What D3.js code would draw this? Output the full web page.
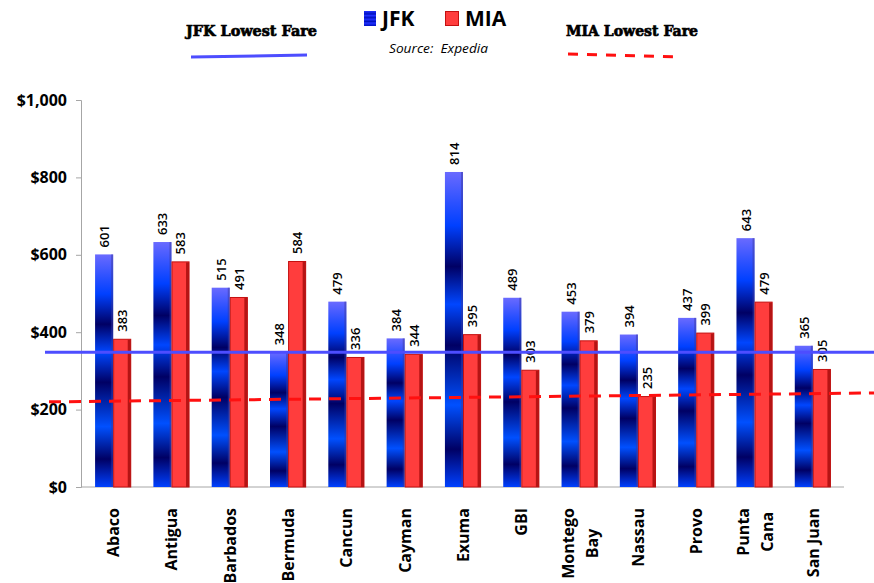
<!DOCTYPE html>
<html>
<head>
<meta charset="utf-8">
<script src="https://cdn.jsdelivr.net/npm/d3@7"></script>
<style>
  body { margin: 0; background: #fff; }
  svg { display: block; }
</style>
</head>
<body>
<script>
// fares by destination
const categories = ["Abaco", "Antigua", "Barbados", "Bermuda", "Cancun", "Cayman", "Exuma", "GBI",
  "Montego\nBay", "Nassau", "Provo", "Punta\nCana", "San Juan"];
const jfkFares = [601, 633, 515, 348, 479, 384, 814, 489, 453, 394, 437, 643, 365];
const miaFares = [383, 583, 491, 584, 336, 344, 395, 303, 379, 235, 399, 479, 305];
const yTicks = [0, 200, 400, 600, 800, 1000];
const jfkLowest = 348;
const miaLowestLine = [220, 243]; // hand drawn dashed line, slightly sloped

const width = 874;
const height = 583;

const svg = d3.select("body").append("svg")
    .attr("width", width)
    .attr("height", height);

const defs = svg.append("defs");
const grad = defs.append("linearGradient")
    .attr("id", "jfkGrad")
    .attr("x1", 0).attr("y1", 0).attr("x2", 0).attr("y2", 1);
[[0, "#6a6aff"], [0.1, "#2a50ff"], [0.17, "#0040ff"], [0.3, "#000064"], [0.42, "#0046ff"],
 [0.55, "#000064"], [0.74, "#0050ff"], [0.88, "#000064"], [1, "#0040ff"]]
    .forEach(s => grad.append("stop").attr("offset", s[0]).attr("stop-color", s[1]));

const stripes = defs.append("linearGradient")
    .attr("id", "legendStripes")
    .attr("x1", 0).attr("y1", 0).attr("x2", 0).attr("y2", 1);
[[0, "#2030ff"], [0.2, "#0010c0"], [0.3, "#2030ff"], [0.45, "#0010c0"], [0.55, "#2030ff"],
 [0.7, "#0010c0"], [0.8, "#2030ff"], [1, "#0010c0"]]
    .forEach(s => stripes.append("stop").attr("offset", s[0]).attr("stop-color", s[1]));

const y = d3.scaleLinear().domain([0, 1000]).range([487, 100]);
const x = d3.scaleBand().domain(categories).range([84, 842])
    .paddingInner(0.38).paddingOuter(0.19);
const x1 = d3.scaleBand().domain(["JFK", "MIA"]).range([0, x.bandwidth()]);

// y axis
const yAxis = d3.axisLeft(y).tickValues(yTicks).tickSize(5).tickPadding(9)
    .tickFormat(d => "$" + d3.format(",")(d));
const gy = svg.append("g").attr("transform", "translate(81,0)").call(yAxis);
gy.select(".domain").attr("stroke", "#a6a6a6");
gy.selectAll(".tick line").attr("stroke", "#a6a6a6");
gy.selectAll(".tick text")
    .attr("font-family", "Open Sans")
    .attr("font-weight", "bold")
    .attr("font-size", 16)
    .attr("fill", "#000");

// x axis baseline
svg.append("line")
    .attr("x1", 81).attr("x2", 844)
    .attr("y1", y(0)).attr("y2", y(0))
    .attr("stroke", "#a6a6a6");

const groups = svg.selectAll(".cat")
    .data(categories)
    .enter()
    .append("g")
    .attr("class", "cat")
    .attr("transform", d => "translate(" + x(d) + ",0)");

// JFK bars
groups.append("rect")
    .attr("x", x1("JFK"))
    .attr("y", (d, i) => y(jfkFares[i]))
    .attr("width", x1.bandwidth())
    .attr("height", (d, i) => y(0) - y(jfkFares[i]))
    .attr("fill", "url(#jfkGrad)");
groups.append("rect")
    .attr("x", x1("JFK") + x1.bandwidth() - 2)
    .attr("y", (d, i) => y(jfkFares[i]))
    .attr("width", 2)
    .attr("height", (d, i) => y(0) - y(jfkFares[i]))
    .attr("fill", "#3a3aa0")
    .attr("opacity", 0.5);

// MIA bars
groups.append("rect")
    .attr("x", x1("MIA") + 0.5)
    .attr("y", (d, i) => y(miaFares[i]) + 0.5)
    .attr("width", x1.bandwidth() - 1)
    .attr("height", (d, i) => y(0) - y(miaFares[i]) - 0.5)
    .attr("fill", "#ff3d3d")
    .attr("stroke", "#c41010")
    .attr("stroke-width", 1);
groups.append("rect")
    .attr("x", x1("MIA") + x1.bandwidth() - 3.5)
    .attr("y", (d, i) => y(miaFares[i]) + 1)
    .attr("width", 3)
    .attr("height", (d, i) => y(0) - y(miaFares[i]) - 1)
    .attr("fill", "#b51414");

// lowest fare lines
svg.append("line")
    .attr("x1", 45).attr("x2", 874)
    .attr("y1", y(jfkLowest)).attr("y2", y(jfkLowest))
    .attr("stroke", "#4d4dff")
    .attr("stroke-width", 3);
svg.append("line")
    .attr("x1", 49).attr("x2", 874)
    .attr("y1", y(miaLowestLine[0])).attr("y2", y(miaLowestLine[1]))
    .attr("stroke", "#ff1010")
    .attr("stroke-width", 3)
    .attr("stroke-dasharray", "12 8");

// value labels
function valueLabel(key, vals) {
    groups.append("text")
        .attr("transform", (d, i) => "translate(" + (x1(key) + x1.bandwidth() / 2) + "," + (y(vals[i]) - 7) + ") rotate(-90)")
        .attr("dominant-baseline", "central")
        .attr("font-family", "Open Sans")
        .attr("font-weight", 600)
        .attr("font-size", 13)
        .attr("fill", "#000")
        .text((d, i) => vals[i]);
}
valueLabel("JFK", jfkFares);
valueLabel("MIA", miaFares);

// category labels, rotated, lines centred on each other
groups.each(function (d) {
    const lines = d.split("\n");
    const t = d3.select(this).append("text")
        .attr("font-family", "Open Sans")
        .attr("font-weight", "bold")
        .attr("font-size", 16)
        .attr("fill", "#000")
        .attr("text-anchor", "middle")
        .attr("dominant-baseline", "central");
    lines.forEach((l, k) => {
        t.append("tspan")
            .attr("x", 0)
            .attr("y", (k - (lines.length - 1) / 2) * 24)
            .text(l);
    });
    let maxLen = 0;
    t.selectAll("tspan").each(function () {
        maxLen = Math.max(maxLen, this.getComputedTextLength());
    });
    t.selectAll("tspan").attr("x", -maxLen / 2);
    t.attr("transform", "translate(" + (x.bandwidth() / 2) + ",508) rotate(-90)");
});

// legend
const legend = svg.append("g");
legend.append("rect")
    .attr("x", 364).attr("y", 11).attr("width", 12).attr("height", 15)
    .attr("fill", "url(#legendStripes)");
legend.append("text")
    .attr("x", 382).attr("y", 26)
    .attr("font-family", "Open Sans").attr("font-weight", "bold").attr("font-size", 21)
    .text("JFK");
legend.append("rect")
    .attr("x", 445.5).attr("y", 11.5).attr("width", 13).attr("height", 14)
    .attr("fill", "#ff3d3d").attr("stroke", "#c41010");
legend.append("text")
    .attr("x", 465).attr("y", 26)
    .attr("font-family", "Open Sans").attr("font-weight", "bold").attr("font-size", 21)
    .text("MIA");
legend.append("text")
    .attr("x", 389).attr("y", 53)
    .attr("font-family", "Open Sans").attr("font-style", "italic").attr("font-size", 13)
    .attr("textLength", 99).attr("lengthAdjust", "spacingAndGlyphs")
    .attr("xml:space", "preserve")
    .text("Source:  Expedia");

legend.append("text")
    .attr("x", 186).attr("y", 36)
    .attr("font-family", "DejaVu Serif").attr("font-weight", "bold").attr("font-size", 15)
    .attr("stroke", "#000").attr("stroke-width", 0.7)
    .attr("textLength", 131).attr("lengthAdjust", "spacingAndGlyphs")
    .text("JFK Lowest Fare");
legend.append("line")
    .attr("x1", 191).attr("y1", 57).attr("x2", 307).attr("y2", 55)
    .attr("stroke", "#4d4dff").attr("stroke-width", 3);
legend.append("text")
    .attr("x", 566).attr("y", 36)
    .attr("font-family", "DejaVu Serif").attr("font-weight", "bold").attr("font-size", 15)
    .attr("stroke", "#000").attr("stroke-width", 0.7)
    .attr("textLength", 132).attr("lengthAdjust", "spacingAndGlyphs")
    .text("MIA Lowest Fare");
legend.append("line")
    .attr("x1", 568).attr("y1", 54).attr("x2", 679).attr("y2", 57)
    .attr("stroke", "#ff1010").attr("stroke-width", 3)
    .attr("stroke-dasharray", "10 9");
</script>
</body>
</html>
